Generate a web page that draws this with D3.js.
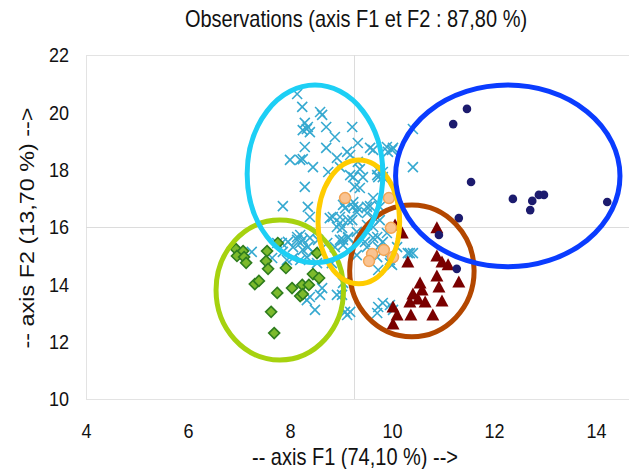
<!DOCTYPE html>
<html>
<head>
<meta charset="utf-8">
<script src="https://cdn.jsdelivr.net/npm/d3@7"></script>
<style>
    body { margin: 0; background: #fff; }
    text { font-family: "Liberation Sans", Arial, sans-serif; fill: #111; }
</style>
</head>
<body>
<div id="chart"></div>
<script>
// Observations scatter on axes F1 / F2 with group ellipses

const xTicks = [4, 6, 8, 10, 12, 14];
const yTicks = [10, 12, 14, 16, 18, 20, 22];
const axisCross = { x: 9.25, y: 16 };

// Group 1 - crosses (blue-green)
const crossX = [8.14, 8.24, 8.59, 8.63, 8.29, 8.35, 8.25, 8.39, 8.33, 8.71, 8.88, 9.22, 8.29, 8.71, 8.00, 8.20, 8.25, 8.45, 8.92, 9.12,
    9.18, 9.33, 9.57, 9.63, 8.98, 8.75, 9.33, 9.37, 9.24, 9.71, 9.73, 8.29, 9.27, 7.86, 8.35, 9.04, 9.24, 9.31, 9.57, 9.63,
    8.78, 8.98, 9.14, 9.51, 8.92, 9.63, 8.14, 8.25, 8.73, 8.98, 9.14, 9.31, 9.51, 9.71, 9.90, 9.92, 9.82, 10.41, 10.02, 10.00,
    10.41, 9.82, 9.76, 10.35, 10.10, 9.96, 7.25, 7.75, 7.96, 8.06, 8.20, 8.25, 8.35, 8.45, 8.55, 8.39, 8.20, 8.14, 7.86, 7.94,
    7.65, 7.84, 8.06, 8.33, 8.20, 8.53, 8.82, 8.88, 9.04, 8.63, 8.59, 8.49, 8.33, 8.39, 8.92, 9.08, 8.98, 8.84, 8.39, 9.18,
    9.43, 9.71, 9.37, 9.24, 9.08, 9.33, 9.51, 9.76, 9.63, 9.22, 9.51, 9.02, 9.63, 9.82, 9.14, 9.47, 9.73, 9.90, 9.04, 9.31,
    9.71, 9.96, 10.31, 10.41, 9.73, 10.00, 9.04, 9.02, 9.18, 9.12, 9.73, 9.82, 9.96, 10.02, 9.71];
const crossY = [20.64, 20.19, 20.01, 19.91, 19.63, 19.49, 19.38, 19.31, 19.42, 19.49, 19.14, 19.49, 18.79, 18.76, 18.34, 18.34, 18.37, 18.09, 18.41, 18.62,
    18.51, 18.93, 18.76, 18.69, 18.09, 17.92, 18.27, 18.02, 17.74, 18.02, 17.74, 17.40, 17.40, 16.73, 16.70, 16.77, 16.70, 16.52, 16.73, 17.01,
    16.31, 16.35, 16.24, 16.49, 16.00, 16.00, 15.65, 15.55, 15.44, 15.55, 15.65, 15.83, 15.30, 15.65, 18.79, 18.62, 17.74, 19.42, 18.76, 18.69,
    18.09, 17.92, 16.24, 15.09, 15.30, 14.74, 15.13, 15.44, 15.48, 15.30, 15.44, 15.20, 15.30, 15.13, 15.55, 15.62, 15.72, 15.55, 15.13, 14.85,
    14.92, 15.44, 14.92, 14.95, 14.85, 14.74, 14.74, 15.30, 15.55, 13.87, 13.63, 13.11, 13.45, 13.56, 13.63, 13.04, 16.14, 16.35, 16.35, 17.81,
    17.74, 17.81, 17.36, 16.87, 16.66, 16.66, 16.70, 16.70, 16.35, 16.24, 16.07, 15.97, 15.62, 15.48, 15.62, 15.48, 15.30, 15.79, 15.37, 15.02,
    14.95, 14.85, 15.09, 15.09, 14.50, 14.68, 14.05, 13.63, 13.04, 12.93, 13.21, 13.35, 13.28, 13.11, 13.00];

// Group 2 - dark blue dots
const dotX = [11.47, 11.20, 11.55, 12.37, 12.75, 12.71, 12.88, 12.98, 14.22, 11.31, 10.92, 11.27];
const dotY = [20.12, 19.59, 17.57, 16.98, 16.91, 16.59, 17.12, 17.12, 16.87, 16.31, 15.72, 14.54];

// Group 3 - orange circles
const ringX = [9.08, 9.94, 9.98, 9.61, 9.84, 10.02, 9.55];
const ringY = [17.01, 17.01, 15.97, 15.06, 15.20, 14.95, 14.81];

// Group 4 - green diamonds
const diamondX = [6.94, 7.08, 6.96, 7.10, 7.14, 7.55, 7.76, 7.53, 7.57, 7.92, 8.45, 8.57, 7.31, 7.39, 7.75, 8.04, 8.24, 8.37, 8.20, 8.25, 7.63, 7.69, 8.53];
const diamondY = [15.23, 15.16, 14.99, 14.95, 14.75, 15.16, 15.44, 14.81, 14.54, 14.57, 14.36, 14.22, 14.01, 14.12, 13.70, 13.87, 13.98, 13.98, 13.59, 13.66, 13.04, 12.30, 15.09];

// Group 5 - dark red triangles
const triX = [10.06, 10.20, 10.88, 10.31, 10.88, 10.98, 11.10, 11.31, 10.88, 10.92, 10.55, 10.59, 10.41, 10.51, 10.65, 10.35, 10.98, 10.80, 10.37, 10.02, 10.10, 10.02];
const triY = [16.07, 15.79, 15.97, 14.78, 14.99, 14.78, 14.68, 14.08, 14.29, 13.91, 14.05, 13.80, 13.66, 13.49, 13.38, 13.38, 13.42, 12.93, 12.93, 13.21, 12.93, 12.62];

// Group ellipses (centre and radii in axis units), drawn in this order
const ellipseColors = ['#a6d20f', '#b34700', '#ffcc00', '#1dcff5', '#0a3cff'];
const ellipseCx = [7.80, 10.39, 9.35, 8.49, 12.27];
const ellipseCy = [13.80, 14.47, 16.18, 17.85, 17.78];
const ellipseRx = [1.25, 1.22, 0.80, 1.33, 2.20];
const ellipseRy = [2.44, 2.30, 2.16, 3.10, 3.17];

function initScatter() {
    const W = 629, H = 469;
    const plot = { left: 86, top: 55, right: 640, bottom: 399 };
    const stretch = 1.17;   // text in the source is drawn a bit taller than wide

    const svg = d3.select('#chart').append('svg')
        .attr('width', W)
        .attr('height', H);

    const xScale = d3.scaleLinear().domain([4, 16]).range([plot.left, plot.left + 612]);
    const yScale = d3.scaleLinear().domain([10, 22]).range([plot.bottom, plot.top]);

    // Plot frame
    svg.append('rect')
        .attr('x', plot.left + 0.5)
        .attr('y', plot.top + 0.5)
        .attr('width', plot.right - plot.left)
        .attr('height', plot.bottom - plot.top)
        .attr('fill', 'none')
        .attr('stroke', '#e3e3e3');

    // Crossing axis lines
    svg.append('line')
        .attr('x1', plot.left).attr('x2', plot.right)
        .attr('y1', Math.round(yScale(axisCross.y)) + 0.5)
        .attr('y2', Math.round(yScale(axisCross.y)) + 0.5)
        .attr('stroke', '#dcdcdc');
    svg.append('line')
        .attr('x1', Math.round(xScale(axisCross.x)) + 0.5)
        .attr('x2', Math.round(xScale(axisCross.x)) + 0.5)
        .attr('y1', plot.top).attr('y2', plot.bottom)
        .attr('stroke', '#dcdcdc');

    // Axes (labels only)
    const xAxis = d3.axisBottom(xScale).tickValues(xTicks).tickSize(0).tickPadding(20.5);
    const yAxis = d3.axisLeft(yScale).tickValues(yTicks).tickSize(0).tickPadding(17);

    const gx = svg.append('g')
        .attr('transform', `translate(0,${plot.bottom})`)
        .call(xAxis);
    const gy = svg.append('g')
        .attr('transform', `translate(${plot.left},0)`)
        .call(yAxis);
    [gx, gy].forEach(g => {
        g.select('.domain').remove();
        g.selectAll('text')
            .style('font-family', '"Liberation Sans", Arial, sans-serif')
            .style('font-size', '18px')
            .attr('fill', '#111')
            .attr('transform', `scale(1,${stretch})`);
    });

    // Crosses
    const crosses = d3.range(crossX.length).map(i => ({ x: crossX[i], y: crossY[i] }));
    svg.append('g').selectAll('path')
        .data(crosses)
        .enter().append('path')
        .attr('transform', d => `translate(${xScale(d.x)},${yScale(d.y)})`)
        .attr('d', 'M-5,-5L5,5M-5,5L5,-5')
        .attr('stroke', '#36a9d0')
        .attr('stroke-width', 1.6)
        .attr('fill', 'none');

    // Diamonds
    const diamonds = d3.range(diamondX.length).map(i => ({ x: diamondX[i], y: diamondY[i] }));
    svg.append('g').selectAll('path')
        .data(diamonds)
        .enter().append('path')
        .attr('transform', d => `translate(${xScale(d.x)},${yScale(d.y)})`)
        .attr('d', 'M0,-5.5L5.5,0L0,5.5L-5.5,0Z')
        .attr('fill', '#7cba2c')
        .attr('stroke', '#2f7d1e')
        .attr('stroke-width', 1.6);

    // Triangles
    const tris = d3.range(triX.length).map(i => ({ x: triX[i], y: triY[i] }));
    svg.append('g').selectAll('path')
        .data(tris)
        .enter().append('path')
        .attr('transform', d => `translate(${xScale(d.x)},${yScale(d.y)})`)
        .attr('d', 'M0,-6.5L6.5,5.5L-6.5,5.5Z')
        .attr('fill', '#7a0000');

    // Orange circles
    const rings = d3.range(ringX.length).map(i => ({ x: ringX[i], y: ringY[i] }));
    svg.append('g').selectAll('circle')
        .data(rings)
        .enter().append('circle')
        .attr('cx', d => xScale(d.x))
        .attr('cy', d => yScale(d.y))
        .attr('r', 5.5)
        .attr('fill', '#f9c391')
        .attr('stroke', '#f2a455')
        .attr('stroke-width', 1.5);

    // Dark blue dots
    const dots = d3.range(dotX.length).map(i => ({ x: dotX[i], y: dotY[i] }));
    svg.append('g').selectAll('circle')
        .data(dots)
        .enter().append('circle')
        .attr('cx', d => xScale(d.x))
        .attr('cy', d => yScale(d.y))
        .attr('r', 4.3)
        .attr('fill', '#1c1b6e');

    // Ellipses
    const ellipses = ellipseColors.map((c, i) => ({
        color: c, cx: ellipseCx[i], cy: ellipseCy[i], rx: ellipseRx[i], ry: ellipseRy[i]
    }));
    svg.append('g').selectAll('ellipse')
        .data(ellipses)
        .enter().append('ellipse')
        .attr('cx', d => xScale(d.cx))
        .attr('cy', d => yScale(d.cy))
        .attr('rx', d => xScale(d.cx + d.rx) - xScale(d.cx))
        .attr('ry', d => yScale(d.cy - d.ry) - yScale(d.cy))
        .attr('fill', 'none')
        .attr('stroke', d => d.color)
        .attr('stroke-width', 5);

    // Titles
    svg.append('text')
        .attr('transform', `translate(356,27) scale(1,${stretch})`)
        .attr('text-anchor', 'middle')
        .style('font-size', '20px')
        .text('Observations (axis F1 et F2 : 87,80 %)');

    svg.append('text')
        .attr('transform', `translate(355,464.5) scale(1,${stretch})`)
        .attr('text-anchor', 'middle')
        .style('font-size', '20px')
        .text('-- axis F1 (74,10 %) -->');

    svg.append('text')
        .attr('transform', `translate(34,228) rotate(-90) scale(${stretch},1)`)
        .attr('text-anchor', 'middle')
        .style('font-size', '20px')
        .text('-- axis F2 (13,70 %) -->');
}

initScatter();
</script>
</body>
</html>
